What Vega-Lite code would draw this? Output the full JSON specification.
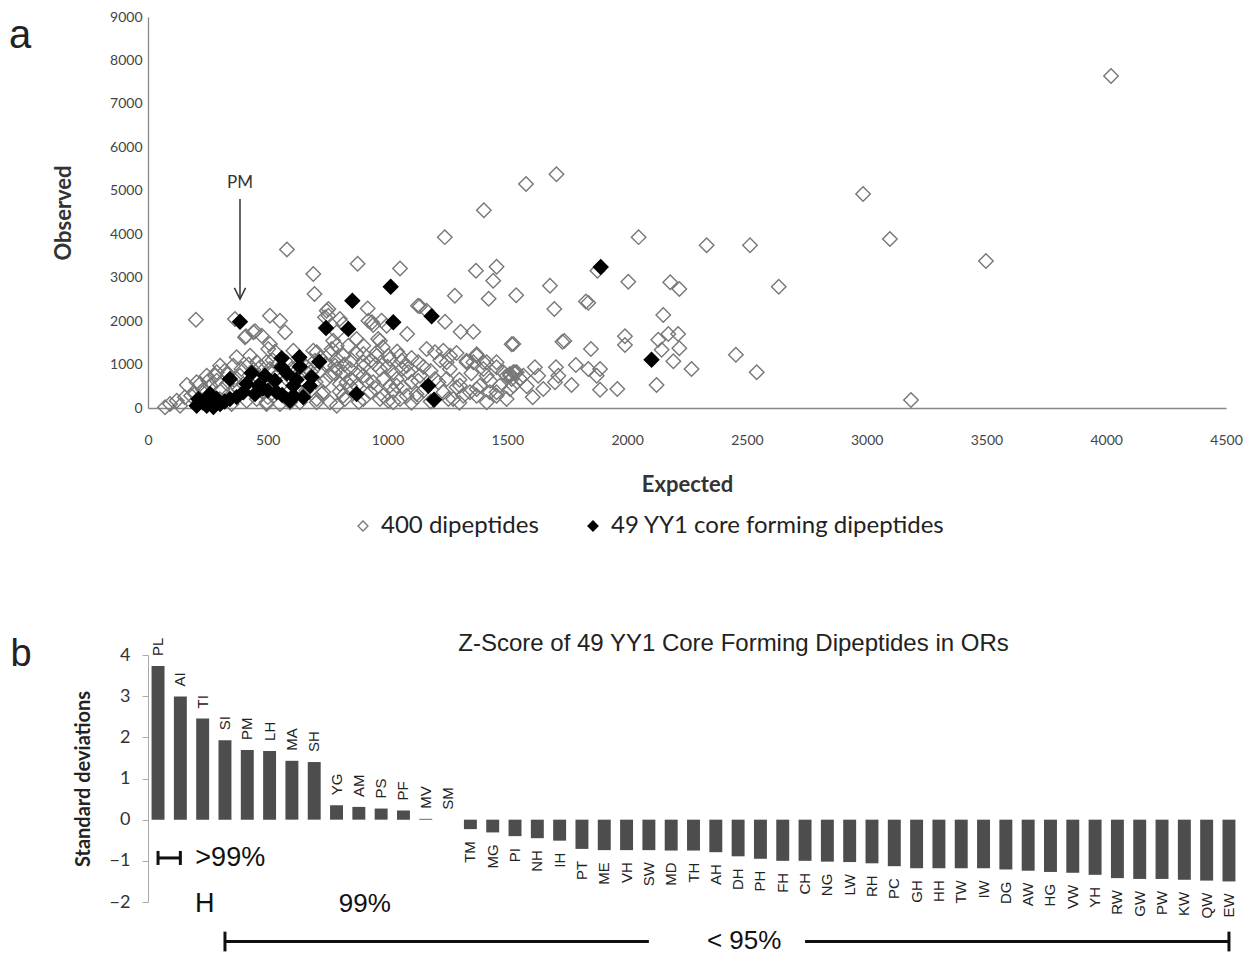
{
"$schema":"https://vega.github.io/schema/vega-lite/v6.json",
"background":"white",
"padding":{"left":8,"top":10,"right":5,"bottom":0},
"spacing":94,
"config":{"view":{"stroke":null},"axis":{"grid":false}},
"resolve":{"scale":{"fill":"independent","stroke":"independent"},"legend":{"fill":"independent","stroke":"independent"}},
"vconcat":[
{
"width":1078,"height":391,
"layer":[
{
"data":{"values":[
{"e":4020,"o":7643,"s":"400 dipeptides"},{"e":1705,"o":5380,"s":"400 dipeptides"},{"e":1578,"o":5157,"s":"400 dipeptides"},{"e":2985,"o":4926,"s":"400 dipeptides"},{"e":1402,"o":4550,"s":"400 dipeptides"},{"e":2048,"o":3933,"s":"400 dipeptides"},{"e":1239,"o":3933,"s":"400 dipeptides"},{"e":3097,"o":3890,"s":"400 dipeptides"},{"e":2332,"o":3745,"s":"400 dipeptides"},{"e":2513,"o":3745,"s":"400 dipeptides"},
{"e":3498,"o":3384,"s":"400 dipeptides"},{"e":2633,"o":2790,"s":"400 dipeptides"},{"e":1455,"o":3250,"s":"400 dipeptides"},{"e":1369,"o":3158,"s":"400 dipeptides"},{"e":875,"o":3320,"s":"400 dipeptides"},{"e":1052,"o":3210,"s":"400 dipeptides"},{"e":580,"o":3650,"s":"400 dipeptides"},{"e":690,"o":3085,"s":"400 dipeptides"},{"e":695,"o":2624,"s":"400 dipeptides"},{"e":2180,"o":2893,"s":"400 dipeptides"},
{"e":2218,"o":2739,"s":"400 dipeptides"},{"e":1678,"o":2816,"s":"400 dipeptides"},{"e":1537,"o":2595,"s":"400 dipeptides"},{"e":1281,"o":2585,"s":"400 dipeptides"},{"e":1422,"o":2515,"s":"400 dipeptides"},{"e":1441,"o":2930,"s":"400 dipeptides"},{"e":2005,"o":2908,"s":"400 dipeptides"},{"e":1696,"o":2279,"s":"400 dipeptides"},{"e":1828,"o":2452,"s":"400 dipeptides"},{"e":1838,"o":2420,"s":"400 dipeptides"},
{"e":1876,"o":3161,"s":"400 dipeptides"},{"e":2151,"o":2141,"s":"400 dipeptides"},{"e":1135,"o":2341,"s":"400 dipeptides"},{"e":917,"o":2290,"s":"400 dipeptides"},{"e":1240,"o":1987,"s":"400 dipeptides"},{"e":935,"o":1972,"s":"400 dipeptides"},{"e":940,"o":1911,"s":"400 dipeptides"},{"e":968,"o":1549,"s":"400 dipeptides"},{"e":1082,"o":1703,"s":"400 dipeptides"},{"e":1305,"o":1757,"s":"400 dipeptides"},
{"e":1358,"o":1757,"s":"400 dipeptides"},{"e":1518,"o":1466,"s":"400 dipeptides"},{"e":1730,"o":1526,"s":"400 dipeptides"},{"e":1738,"o":1545,"s":"400 dipeptides"},{"e":1849,"o":1358,"s":"400 dipeptides"},{"e":1991,"o":1650,"s":"400 dipeptides"},{"e":1991,"o":1450,"s":"400 dipeptides"},{"e":2130,"o":1573,"s":"400 dipeptides"},{"e":2172,"o":1703,"s":"400 dipeptides"},{"e":2213,"o":1703,"s":"400 dipeptides"},
{"e":2144,"o":1342,"s":"400 dipeptides"},{"e":2218,"o":1374,"s":"400 dipeptides"},{"e":2193,"o":1075,"s":"400 dipeptides"},{"e":2269,"o":898,"s":"400 dipeptides"},{"e":2123,"o":529,"s":"400 dipeptides"},{"e":2454,"o":1227,"s":"400 dipeptides"},{"e":2541,"o":822,"s":"400 dipeptides"},{"e":3185,"o":184,"s":"400 dipeptides"},{"e":1786,"o":990,"s":"400 dipeptides"},{"e":1768,"o":529,"s":"400 dipeptides"},
{"e":1887,"o":898,"s":"400 dipeptides"},{"e":1873,"o":744,"s":"400 dipeptides"},{"e":1887,"o":421,"s":"400 dipeptides"},{"e":1959,"o":437,"s":"400 dipeptides"},{"e":1838,"o":898,"s":"400 dipeptides"},{"e":1703,"o":937,"s":"400 dipeptides"},{"e":1713,"o":744,"s":"400 dipeptides"},{"e":1699,"o":592,"s":"400 dipeptides"},{"e":1615,"o":937,"s":"400 dipeptides"},{"e":1629,"o":744,"s":"400 dipeptides"},
{"e":1650,"o":437,"s":"400 dipeptides"},{"e":1581,"o":500,"s":"400 dipeptides"},{"e":1606,"o":246,"s":"400 dipeptides"},{"e":1525,"o":822,"s":"400 dipeptides"},{"e":1497,"o":207,"s":"400 dipeptides"},{"e":1525,"o":514,"s":"400 dipeptides"},{"e":1497,"o":744,"s":"400 dipeptides"},{"e":1163,"o":1358,"s":"400 dipeptides"},{"e":1233,"o":1319,"s":"400 dipeptides"},{"e":1288,"o":1266,"s":"400 dipeptides"},
{"e":1372,"o":1236,"s":"400 dipeptides"},{"e":1414,"o":1052,"s":"400 dipeptides"},{"e":1330,"o":1052,"s":"400 dipeptides"},{"e":1455,"o":937,"s":"400 dipeptides"},{"e":1511,"o":783,"s":"400 dipeptides"},{"e":1128,"o":1052,"s":"400 dipeptides"},{"e":1247,"o":1052,"s":"400 dipeptides"},{"e":1059,"o":1089,"s":"400 dipeptides"},{"e":1003,"o":1204,"s":"400 dipeptides"},{"e":955,"o":1282,"s":"400 dipeptides"},
{"e":899,"o":1052,"s":"400 dipeptides"},{"e":878,"o":822,"s":"400 dipeptides"},{"e":968,"o":898,"s":"400 dipeptides"},{"e":1024,"o":822,"s":"400 dipeptides"},{"e":1038,"o":668,"s":"400 dipeptides"},{"e":1086,"o":822,"s":"400 dipeptides"},{"e":1128,"o":629,"s":"400 dipeptides"},{"e":1066,"o":475,"s":"400 dipeptides"},{"e":1010,"o":514,"s":"400 dipeptides"},{"e":1024,"o":398,"s":"400 dipeptides"},
{"e":968,"o":207,"s":"400 dipeptides"},{"e":927,"o":361,"s":"400 dipeptides"},{"e":1003,"o":168,"s":"400 dipeptides"},{"e":913,"o":629,"s":"400 dipeptides"},{"e":815,"o":822,"s":"400 dipeptides"},{"e":801,"o":552,"s":"400 dipeptides"},{"e":843,"o":514,"s":"400 dipeptides"},{"e":822,"o":207,"s":"400 dipeptides"},{"e":1212,"o":590,"s":"400 dipeptides"},{"e":1233,"o":361,"s":"400 dipeptides"},
{"e":1254,"o":207,"s":"400 dipeptides"},{"e":1288,"o":475,"s":"400 dipeptides"},{"e":1121,"o":322,"s":"400 dipeptides"},{"e":1052,"o":207,"s":"400 dipeptides"},{"e":1358,"o":1052,"s":"400 dipeptides"},{"e":1372,"o":437,"s":"400 dipeptides"},{"e":1344,"o":361,"s":"400 dipeptides"},{"e":1400,"o":898,"s":"400 dipeptides"},{"e":1414,"o":744,"s":"400 dipeptides"},{"e":1427,"o":361,"s":"400 dipeptides"},
{"e":1455,"o":283,"s":"400 dipeptides"},{"e":1483,"o":822,"s":"400 dipeptides"},{"e":1518,"o":668,"s":"400 dipeptides"},{"e":1532,"o":822,"s":"400 dipeptides"},{"e":1567,"o":744,"s":"400 dipeptides"},{"e":1330,"o":1089,"s":"400 dipeptides"},{"e":1372,"o":1204,"s":"400 dipeptides"},{"e":1455,"o":1052,"s":"400 dipeptides"},{"e":1511,"o":744,"s":"400 dipeptides"},{"e":1455,"o":361,"s":"400 dipeptides"},
{"e":1539,"o":822,"s":"400 dipeptides"},{"e":1525,"o":1473,"s":"400 dipeptides"},{"e":1127,"o":2355,"s":"400 dipeptides"},{"e":753,"o":2279,"s":"400 dipeptides"},{"e":920,"o":2010,"s":"400 dipeptides"},{"e":836,"o":1434,"s":"400 dipeptides"},{"e":961,"o":1588,"s":"400 dipeptides"},{"e":788,"o":1742,"s":"400 dipeptides"},{"e":801,"o":2049,"s":"400 dipeptides"},{"e":753,"o":2125,"s":"400 dipeptides"},
{"e":551,"o":2010,"s":"400 dipeptides"},{"e":509,"o":2125,"s":"400 dipeptides"},{"e":572,"o":1742,"s":"400 dipeptides"},{"e":440,"o":1742,"s":"400 dipeptides"},{"e":405,"o":1627,"s":"400 dipeptides"},{"e":363,"o":2049,"s":"400 dipeptides"},{"e":200,"o":2033,"s":"400 dipeptides"},{"e":746,"o":2240,"s":"400 dipeptides"},{"e":739,"o":2088,"s":"400 dipeptides"},{"e":773,"o":1549,"s":"400 dipeptides"},
{"e":767,"o":1358,"s":"400 dipeptides"},{"e":788,"o":1128,"s":"400 dipeptides"},{"e":781,"o":974,"s":"400 dipeptides"},{"e":690,"o":1319,"s":"400 dipeptides"},{"e":697,"o":1089,"s":"400 dipeptides"},{"e":579,"o":1052,"s":"400 dipeptides"},{"e":495,"o":1052,"s":"400 dipeptides"},{"e":454,"o":1052,"s":"400 dipeptides"},{"e":370,"o":1167,"s":"400 dipeptides"},{"e":356,"o":974,"s":"400 dipeptides"},
{"e":301,"o":974,"s":"400 dipeptides"},{"e":321,"o":859,"s":"400 dipeptides"},{"e":280,"o":744,"s":"400 dipeptides"},{"e":287,"o":629,"s":"400 dipeptides"},{"e":252,"o":629,"s":"400 dipeptides"},{"e":162,"o":529,"s":"400 dipeptides"},{"e":217,"o":552,"s":"400 dipeptides"},{"e":238,"o":398,"s":"400 dipeptides"},{"e":196,"o":322,"s":"400 dipeptides"},{"e":154,"o":246,"s":"400 dipeptides"},
{"e":120,"o":168,"s":"400 dipeptides"},{"e":92,"o":92,"s":"400 dipeptides"},{"e":71,"o":16,"s":"400 dipeptides"},{"e":134,"o":53,"s":"400 dipeptides"},{"e":384,"o":744,"s":"400 dipeptides"},{"e":398,"o":552,"s":"400 dipeptides"},{"e":335,"o":783,"s":"400 dipeptides"},{"e":454,"o":744,"s":"400 dipeptides"},{"e":523,"o":822,"s":"400 dipeptides"},{"e":621,"o":744,"s":"400 dipeptides"},
{"e":718,"o":859,"s":"400 dipeptides"},{"e":739,"o":629,"s":"400 dipeptides"},{"e":725,"o":322,"s":"400 dipeptides"},{"e":704,"o":131,"s":"400 dipeptides"},{"e":412,"o":168,"s":"400 dipeptides"},{"e":495,"o":131,"s":"400 dipeptides"},{"e":579,"o":207,"s":"400 dipeptides"},{"e":634,"o":131,"s":"400 dipeptides"},{"e":349,"o":92,"s":"400 dipeptides"},{"e":447,"o":1765,"s":"400 dipeptides"},
{"e":475,"o":1665,"s":"400 dipeptides"},{"e":409,"o":1650,"s":"400 dipeptides"},{"e":509,"o":1473,"s":"400 dipeptides"},{"e":502,"o":1358,"s":"400 dipeptides"},{"e":530,"o":1296,"s":"400 dipeptides"},{"e":607,"o":1319,"s":"400 dipeptides"},{"e":815,"o":1934,"s":"400 dipeptides"},{"e":975,"o":2011,"s":"400 dipeptides"},{"e":996,"o":1895,"s":"400 dipeptides"},{"e":1163,"o":2241,"s":"400 dipeptides"},
{"e":871,"o":1588,"s":"400 dipeptides"},{"e":899,"o":1435,"s":"400 dipeptides"},{"e":788,"o":1435,"s":"400 dipeptides"},{"e":704,"o":1282,"s":"400 dipeptides"},{"e":815,"o":1205,"s":"400 dipeptides"},{"e":899,"o":1243,"s":"400 dipeptides"},{"e":955,"o":1205,"s":"400 dipeptides"},{"e":1010,"o":1128,"s":"400 dipeptides"},{"e":1052,"o":1205,"s":"400 dipeptides"},{"e":1080,"o":975,"s":"400 dipeptides"},
{"e":1198,"o":1282,"s":"400 dipeptides"},{"e":1261,"o":1205,"s":"400 dipeptides"},{"e":1400,"o":1051,"s":"400 dipeptides"},{"e":1135,"o":744,"s":"400 dipeptides"},{"e":1198,"o":668,"s":"400 dipeptides"},{"e":1247,"o":668,"s":"400 dipeptides"},{"e":1302,"o":514,"s":"400 dipeptides"},{"e":1386,"o":514,"s":"400 dipeptides"},{"e":1428,"o":629,"s":"400 dipeptides"},{"e":1469,"o":514,"s":"400 dipeptides"},
{"e":1511,"o":437,"s":"400 dipeptides"},{"e":1553,"o":668,"s":"400 dipeptides"},{"e":1038,"o":514,"s":"400 dipeptides"},{"e":982,"o":668,"s":"400 dipeptides"},{"e":940,"o":591,"s":"400 dipeptides"},{"e":899,"o":745,"s":"400 dipeptides"},{"e":843,"o":898,"s":"400 dipeptides"},{"e":788,"o":898,"s":"400 dipeptides"},{"e":760,"o":745,"s":"400 dipeptides"},{"e":829,"o":591,"s":"400 dipeptides"},
{"e":871,"o":514,"s":"400 dipeptides"},{"e":982,"o":284,"s":"400 dipeptides"},{"e":1024,"o":131,"s":"400 dipeptides"},{"e":1080,"o":284,"s":"400 dipeptides"},{"e":1122,"o":246,"s":"400 dipeptides"},{"e":1274,"o":207,"s":"400 dipeptides"},{"e":1316,"o":284,"s":"400 dipeptides"},{"e":1372,"o":284,"s":"400 dipeptides"},{"e":1414,"o":131,"s":"400 dipeptides"},{"e":732,"o":361,"s":"400 dipeptides"},
{"e":704,"o":207,"s":"400 dipeptides"},{"e":760,"o":131,"s":"400 dipeptides"},{"e":815,"o":284,"s":"400 dipeptides"},{"e":509,"o":898,"s":"400 dipeptides"},{"e":537,"o":745,"s":"400 dipeptides"},{"e":579,"o":668,"s":"400 dipeptides"},{"e":621,"o":860,"s":"400 dipeptides"},{"e":481,"o":591,"s":"400 dipeptides"},{"e":426,"o":1205,"s":"400 dipeptides"},{"e":287,"o":821,"s":"400 dipeptides"},
{"e":245,"o":745,"s":"400 dipeptides"},{"e":203,"o":591,"s":"400 dipeptides"},{"e":593,"o":131,"s":"400 dipeptides"},{"e":551,"o":92,"s":"400 dipeptides"},{"e":495,"o":92,"s":"400 dipeptides"},{"e":454,"o":207,"s":"400 dipeptides"},{"e":648,"o":284,"s":"400 dipeptides"},{"e":788,"o":54,"s":"400 dipeptides"},{"e":899,"o":207,"s":"400 dipeptides"},{"e":1100,"o":120,"s":"400 dipeptides"},
{"e":1180,"o":150,"s":"400 dipeptides"},{"e":880,"o":140,"s":"400 dipeptides"},{"e":1300,"o":120,"s":"400 dipeptides"},
{"e":180,"o":280,"s":"400 dipeptides"},{"e":230,"o":420,"s":"400 dipeptides"},{"e":260,"o":520,"s":"400 dipeptides"},{"e":310,"o":420,"s":"400 dipeptides"},{"e":330,"o":560,"s":"400 dipeptides"},{"e":360,"o":650,"s":"400 dipeptides"},{"e":390,"o":900,"s":"400 dipeptides"},{"e":420,"o":1000,"s":"400 dipeptides"},{"e":440,"o":880,"s":"400 dipeptides"},{"e":470,"o":950,"s":"400 dipeptides"},
{"e":520,"o":1100,"s":"400 dipeptides"},{"e":540,"o":1000,"s":"400 dipeptides"},{"e":600,"o":900,"s":"400 dipeptides"},{"e":640,"o":1050,"s":"400 dipeptides"},{"e":660,"o":950,"s":"400 dipeptides"},{"e":680,"o":830,"s":"400 dipeptides"},{"e":700,"o":950,"s":"400 dipeptides"},{"e":720,"o":1150,"s":"400 dipeptides"},{"e":740,"o":1000,"s":"400 dipeptides"},{"e":760,"o":1250,"s":"400 dipeptides"},
{"e":780,"o":800,"s":"400 dipeptides"},{"e":820,"o":1000,"s":"400 dipeptides"},{"e":850,"o":1100,"s":"400 dipeptides"},{"e":870,"o":1250,"s":"400 dipeptides"},{"e":900,"o":950,"s":"400 dipeptides"},{"e":930,"o":1100,"s":"400 dipeptides"},{"e":950,"o":1000,"s":"400 dipeptides"},{"e":980,"o":1400,"s":"400 dipeptides"},{"e":1000,"o":950,"s":"400 dipeptides"},{"e":1040,"o":1300,"s":"400 dipeptides"},
{"e":1060,"o":900,"s":"400 dipeptides"},{"e":1100,"o":1150,"s":"400 dipeptides"},{"e":1150,"o":950,"s":"400 dipeptides"},{"e":1180,"o":850,"s":"400 dipeptides"},{"e":1220,"o":1100,"s":"400 dipeptides"},{"e":1260,"o":900,"s":"400 dipeptides"},{"e":660,"o":400,"s":"400 dipeptides"},{"e":700,"o":600,"s":"400 dipeptides"},{"e":620,"o":450,"s":"400 dipeptides"},{"e":560,"o":550,"s":"400 dipeptides"},
{"e":520,"o":450,"s":"400 dipeptides"},{"e":500,"o":250,"s":"400 dipeptides"},{"e":440,"o":480,"s":"400 dipeptides"},{"e":380,"o":420,"s":"400 dipeptides"},{"e":340,"o":330,"s":"400 dipeptides"},{"e":300,"o":200,"s":"400 dipeptides"},{"e":250,"o":250,"s":"400 dipeptides"},{"e":800,"o":380,"s":"400 dipeptides"},{"e":850,"o":650,"s":"400 dipeptides"},{"e":950,"o":450,"s":"400 dipeptides"},
{"e":1150,"o":400,"s":"400 dipeptides"},{"e":1100,"o":600,"s":"400 dipeptides"},{"e":1300,"o":650,"s":"400 dipeptides"},{"e":1350,"o":800,"s":"400 dipeptides"},
{"e":384,"o":1987,"s":"49 YY1 core forming dipeptides"},{"e":853,"o":2470,"s":"49 YY1 core forming dipeptides"},{"e":1013,"o":2793,"s":"49 YY1 core forming dipeptides"},{"e":743,"o":1842,"s":"49 YY1 core forming dipeptides"},{"e":836,"o":1819,"s":"49 YY1 core forming dipeptides"},{"e":1024,"o":1973,"s":"49 YY1 core forming dipeptides"},{"e":1184,"o":2111,"s":"49 YY1 core forming dipeptides"},{"e":558,"o":1144,"s":"49 YY1 core forming dipeptides"},{"e":632,"o":1167,"s":"49 YY1 core forming dipeptides"},{"e":634,"o":951,"s":"49 YY1 core forming dipeptides"},
{"e":715,"o":1066,"s":"49 YY1 core forming dipeptides"},{"e":558,"o":937,"s":"49 YY1 core forming dipeptides"},{"e":342,"o":668,"s":"49 YY1 core forming dipeptides"},{"e":433,"o":806,"s":"49 YY1 core forming dipeptides"},{"e":488,"o":744,"s":"49 YY1 core forming dipeptides"},{"e":530,"o":629,"s":"49 YY1 core forming dipeptides"},{"e":683,"o":706,"s":"49 YY1 core forming dipeptides"},{"e":676,"o":514,"s":"49 YY1 core forming dipeptides"},{"e":412,"o":552,"s":"49 YY1 core forming dipeptides"},{"e":461,"o":514,"s":"49 YY1 core forming dipeptides"},
{"e":398,"o":361,"s":"49 YY1 core forming dipeptides"},{"e":447,"o":322,"s":"49 YY1 core forming dipeptides"},{"e":537,"o":361,"s":"49 YY1 core forming dipeptides"},{"e":607,"o":514,"s":"49 YY1 core forming dipeptides"},{"e":607,"o":283,"s":"49 YY1 core forming dipeptides"},{"e":648,"o":246,"s":"49 YY1 core forming dipeptides"},{"e":593,"o":168,"s":"49 YY1 core forming dipeptides"},{"e":210,"o":207,"s":"49 YY1 core forming dipeptides"},{"e":259,"o":322,"s":"49 YY1 core forming dipeptides"},{"e":287,"o":207,"s":"49 YY1 core forming dipeptides"},
{"e":245,"o":53,"s":"49 YY1 core forming dipeptides"},{"e":203,"o":53,"s":"49 YY1 core forming dipeptides"},{"e":301,"o":92,"s":"49 YY1 core forming dipeptides"},{"e":342,"o":207,"s":"49 YY1 core forming dipeptides"},{"e":273,"o":23,"s":"49 YY1 core forming dipeptides"},{"e":871,"o":322,"s":"49 YY1 core forming dipeptides"},{"e":1170,"o":514,"s":"49 YY1 core forming dipeptides"},{"e":1194,"o":191,"s":"49 YY1 core forming dipeptides"},{"e":1890,"o":3245,"s":"49 YY1 core forming dipeptides"},{"e":2102,"o":1112,"s":"49 YY1 core forming dipeptides"},
{"e":230,"o":120,"s":"49 YY1 core forming dipeptides"},{"e":320,"o":150,"s":"49 YY1 core forming dipeptides"},{"e":370,"o":250,"s":"49 YY1 core forming dipeptides"},{"e":500,"o":400,"s":"49 YY1 core forming dipeptides"},{"e":560,"o":300,"s":"49 YY1 core forming dipeptides"},{"e":620,"o":650,"s":"49 YY1 core forming dipeptides"},{"e":480,"o":450,"s":"49 YY1 core forming dipeptides"},{"e":580,"o":800,"s":"49 YY1 core forming dipeptides"},{"e":265,"o":110,"s":"49 YY1 core forming dipeptides"}
]},
"mark":{"type":"point","shape":"diamond","filled":true,"size":210,"strokeWidth":1.4,"opacity":1},
"encoding":{
"x":{"field":"e","type":"quantitative","scale":{"domain":[0,4500],"nice":false},"axis":{"title":"Expected","format":"d","values":[0,500,1000,1500,2000,2500,3000,3500,4000,4500],"ticks":false,"labelPadding":25,"labelFont":"Lato","labelFontSize":14,"labelColor":"#444","labelFlush":false,"domainColor":"#888","domainWidth":1.3,"titleFont":"Lato","titleFontSize":22,"titleFontWeight":"bold","titleColor":"#333","titlePadding":27}},
"y":{"field":"o","type":"quantitative","scale":{"domain":[0,9000],"nice":false},"axis":{"title":"Observed","format":"d","values":[0,1000,2000,3000,4000,5000,6000,7000,8000,9000],"ticks":false,"labelPadding":6,"labelFont":"Lato","labelFontSize":14,"labelColor":"#444","domainColor":"#888","domainWidth":1.3,"titleFont":"Lato","titleFontSize":22,"titleFontWeight":"bold","titleColor":"#333","titlePadding":34}},
"fill":{"field":"s","type":"nominal","scale":{"domain":["400 dipeptides","49 YY1 core forming dipeptides"],"range":["rgba(255,255,255,0)","black"]},"legend":{"title":null,"orient":"none","legendX":203,"legendY":497,"direction":"horizontal","labelFont":"Lato","labelFontSize":24,"labelColor":"#222","labelLimit":0,"symbolType":"diamond","symbolSize":100,"symbolStrokeWidth":1.3,"columnPadding":42,"labelOffset":6}},
"stroke":{"field":"s","type":"nominal","scale":{"domain":["400 dipeptides","49 YY1 core forming dipeptides"],"range":["#777777","black"]},"legend":{"title":null,"orient":"none","legendX":203,"legendY":497,"direction":"horizontal","labelFont":"Lato","labelFontSize":24,"labelColor":"#222","labelLimit":0,"symbolType":"diamond","symbolSize":100,"symbolStrokeWidth":1.3,"columnPadding":42,"labelOffset":6}}
}
},
{
"data":{"values":[{"e":-534,"o":8563,"t":"a"}]},
"mark":{"type":"text","font":"Liberation Sans","fontSize":40,"color":"#222","align":"center","baseline":"middle"},
"encoding":{"x":{"field":"e","type":"quantitative"},"y":{"field":"o","type":"quantitative"},"text":{"field":"t"}}
},
{
"data":{"values":[{"e":384,"o":5180,"t":"PM"}]},
"mark":{"type":"text","font":"Lato","fontSize":17,"color":"#333","align":"center","baseline":"middle"},
"encoding":{"x":{"field":"e","type":"quantitative"},"y":{"field":"o","type":"quantitative"},"text":{"field":"t"}}
},
{
"data":{"values":[{"e":384,"o":4811,"o2":2530}]},
"mark":{"type":"rule","color":"#333","strokeWidth":1.5},
"encoding":{"x":{"field":"e","type":"quantitative"},"y":{"field":"o","type":"quantitative"},"y2":{"field":"o2"}}
},
{
"data":{"values":[{"e":384,"o":2509}]},
"mark":{"type":"point","shape":"M-0.5,-1L0,0L0.5,-1","size":500,"filled":false,"stroke":"#333","strokeWidth":1.5,"opacity":1},
"encoding":{"x":{"field":"e","type":"quantitative"},"y":{"field":"o","type":"quantitative"}}
}
]
},
{
"width":1091,"height":247,
"title":{"text":"Z-Score of 49 YY1 Core Forming Dipeptides in ORs","font":"Liberation Sans","fontSize":24,"fontWeight":"normal","color":"#222","anchor":"middle","dx":40,"offset":-20},
"encoding":{
"x":{"field":"d","type":"nominal","sort":null,"scale":{"domain":["PL","AI","TI","SI","PM","LH","MA","SH","YG","AM","PS","PF","MV","SM","TM","MG","PI","NH","IH","PT","ME","VH","SW","MD","TH","AH","DH","PH","FH","CH","NG","LW","RH","PC","GH","HH","TW","IW","DG","AW","HG","VW","YH","RW","GW","PW","KW","QW","EW"],"paddingInner":0.42,"paddingOuter":0.16},"axis":null},
"y":{"field":"z","type":"quantitative","scale":{"domain":[-2,4],"nice":false},"axis":{"title":"Standard deviations","values":[-2,-1,0,1,2,3,4],"tickSize":6,"tickColor":"#aaa","domainColor":"#aaa","labelFont":"Lato","labelFontSize":18,"labelColor":"#333","labelPadding":12,"titleFont":"Lato","titleFontSize":20,"titleFontWeight":"bold","titleColor":"#222","titlePadding":16}}
},
"layer":[
{
"data":{"name":"bars","values":[
{"d":"PL","z":3.73},{"d":"AI","z":2.99},{"d":"TI","z":2.46},{"d":"SI","z":1.93},{"d":"PM","z":1.69},{"d":"LH","z":1.67},{"d":"MA","z":1.43},{"d":"SH","z":1.4},{"d":"YG","z":0.35},{"d":"AM","z":0.31},
{"d":"PS","z":0.27},{"d":"PF","z":0.22},{"d":"MV","z":0.02},{"d":"SM","z":0.0},{"d":"TM","z":-0.23},{"d":"MG","z":-0.31},{"d":"PI","z":-0.4},{"d":"NH","z":-0.45},{"d":"IH","z":-0.51},{"d":"PT","z":-0.71},
{"d":"ME","z":-0.74},{"d":"VH","z":-0.74},{"d":"SW","z":-0.74},{"d":"MD","z":-0.75},{"d":"TH","z":-0.75},{"d":"AH","z":-0.79},{"d":"DH","z":-0.89},{"d":"PH","z":-0.95},{"d":"FH","z":-1.0},{"d":"CH","z":-1.0},
{"d":"NG","z":-1.02},{"d":"LW","z":-1.03},{"d":"RH","z":-1.06},{"d":"PC","z":-1.13},{"d":"GH","z":-1.18},{"d":"HH","z":-1.18},{"d":"TW","z":-1.18},{"d":"IW","z":-1.18},{"d":"DG","z":-1.21},{"d":"AW","z":-1.24},
{"d":"HG","z":-1.27},{"d":"VW","z":-1.29},{"d":"YH","z":-1.34},{"d":"RW","z":-1.42},{"d":"GW","z":-1.44},{"d":"PW","z":-1.44},{"d":"KW","z":-1.46},{"d":"QW","z":-1.48},{"d":"EW","z":-1.5}
]},
"mark":{"type":"bar","color":"#4d4d4d"}
},
{
"data":{"name":"bars"},
"transform":[{"filter":"datum.z >= 0"}],
"mark":{"type":"text","angle":270,"align":"left","baseline":"middle","dx":10,"font":"Liberation Sans","fontSize":15,"color":"#222"},
"encoding":{"text":{"field":"d"}}
},
{
"data":{"name":"bars"},
"transform":[{"filter":"datum.z < 0"}],
"mark":{"type":"text","angle":270,"align":"right","baseline":"middle","dx":-12,"font":"Liberation Sans","fontSize":15,"color":"#222"},
"encoding":{"text":{"field":"d"}}
},
{
"data":{"values":[{"d":"PL","z":4.0,"t":"b"}]},
"mark":{"type":"text","font":"Liberation Sans","fontSize":38,"color":"#222","align":"center","baseline":"middle","dx":-137},
"encoding":{"text":{"field":"t"}}
},
{
"data":{"values":[
{"d":"PL","d2":"AI","z":-0.93,"z2":-0.93},{"d":"PL","d2":"PL","z":-0.76,"z2":-1.1},{"d":"AI","d2":"AI","z":-0.76,"z2":-1.1},
{"d":"SI","d2":"SW","z":-2.96,"z2":-2.96},{"d":"CH","d2":"EW","z":-2.96,"z2":-2.96},{"d":"SI","d2":"SI","z":-2.72,"z2":-3.2},{"d":"EW","d2":"EW","z":-2.72,"z2":-3.2}
]},
"mark":{"type":"rule","color":"#111","strokeWidth":3},
"encoding":{"x2":{"field":"d2"},"y2":{"field":"z2"}}
},
{
"data":{"values":[{"d":"AI","z":-0.93,"t":">99%"}]},
"mark":{"type":"text","font":"Liberation Sans","fontSize":27,"color":"#111","align":"left","baseline":"middle","dx":15},
"encoding":{"text":{"field":"t"}}
},
{
"data":{"values":[{"d":"TI","z":-2.04,"t":"H"}]},
"mark":{"type":"text","font":"Liberation Sans","fontSize":27,"color":"#111","align":"center","baseline":"middle","dx":2},
"encoding":{"text":{"field":"t"}}
},
{
"data":{"values":[{"d":"AM","z":-2.04,"t":"99%"},{"d":"DH","z":-2.95,"t":"< 95%"}]},
"mark":{"type":"text","font":"Liberation Sans","fontSize":26,"color":"#111","align":"center","baseline":"middle","dx":6},
"encoding":{"text":{"field":"t"}}
}
]
}
]
}
